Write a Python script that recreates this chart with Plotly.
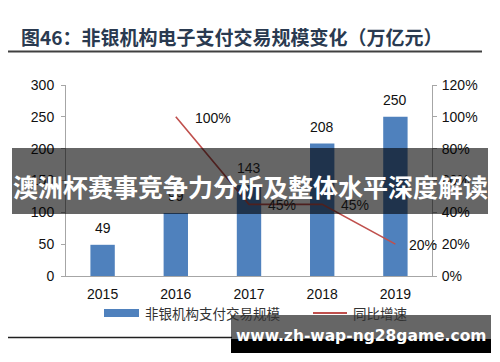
import plotly.graph_objects as go

years = ["2015", "2016", "2017", "2018", "2019"]
scale = [49, 99, 143, 208, 250]
growth = [None, 100, 45, 45, 20]
growth_labels = ["", "100%", "45%", "45%", "20%"]
left_ticks = [0, 50, 100, 150, 200, 250, 300]
right_ticks = [0, 20, 40, 60, 80, 100, 120]

# the page body adds an 8px margin; compensate so the picture lines up
OFF = 8
W, H = 500 - OFF, 362 - OFF
L, R, T, B = 66 - OFF, 432 - OFF, 85 - OFF, 276 - OFF  # plot area in figure pixels


def px(x):
    return (x - OFF - L) / (R - L)


def py(y):
    return (B - (y - OFF)) / (B - T)


FONT = "Liberation Sans, Arial, sans-serif"
CJK = "Noto Sans CJK SC, sans-serif"

fig = go.Figure()
fig.add_trace(go.Bar(
    x=years, y=scale, marker=dict(color="#4f81bd", line=dict(width=0)),
    name="非银机构支付交易规模", showlegend=False,
))
fig.add_trace(go.Scatter(
    x=years, y=growth, yaxis="y2", mode="lines",
    line=dict(color="#c0504d", width=1.6),
    name="同比增速", showlegend=False,
))

fig.update_layout(
    width=W, height=H,
    margin=dict(l=L, r=W - R, t=T, b=H - B, autoexpand=False),
    paper_bgcolor="white", plot_bgcolor="white",
    bargap=0.667,
    xaxis=dict(
        type="category", range=[-0.5, len(years) - 0.5], showgrid=False, showline=True,
        linecolor="#a6a6a6", linewidth=1, ticks="",
        tickfont=dict(family=FONT, size=14, color="#111"), automargin=False,
        ticklabelstandoff=5,
    ),
    yaxis=dict(
        range=[0, 300], tickvals=left_ticks, showgrid=False, showline=True,
        linecolor="#a6a6a6", linewidth=1, ticks="outside", ticklen=4,
        tickcolor="#a6a6a6", tickfont=dict(family=FONT, size=14, color="#111"),
        zeroline=False, automargin=False, ticklabelstandoff=4,
    ),
    yaxis2=dict(
        range=[0, 120], tickvals=right_ticks, ticktext=[f"{v}%" for v in right_ticks],
        overlaying="y", side="right", showgrid=False, showline=True,
        linecolor="#a6a6a6", linewidth=1, ticks="outside", ticklen=4,
        tickcolor="#a6a6a6", tickfont=dict(family=FONT, size=14, color="#111"),
        zeroline=False, automargin=False, ticklabelstandoff=2,
    ),
)

shapes = []
annotations = []

# data labels (anchored to the data through the axes; category index positions)
for i, v in enumerate(scale):
    annotations.append(dict(x=i, y=v, xref="x", yref="y", text=str(v), showarrow=False,
                            xanchor="center", yanchor="bottom", yshift=7,
                            font=dict(family=FONT, size=14, color="#111")))
for i, (g, lab, xs) in enumerate(zip(growth, growth_labels, [0, 17, 17, 17, 12])):
    if g is None:
        continue
    annotations.append(dict(x=i, y=g, xref="x", yref="y2", text=lab, showarrow=False,
                            xanchor="left", yanchor="middle", xshift=xs, yshift=-1,
                            font=dict(family=FONT, size=14, color="#111")))

# title and rules
annotations.append(dict(
    xref="paper", yref="paper", x=px(19), y=py(37), xanchor="left", yanchor="middle",
    text="<b>图46：非银机构电子支付交易规模变化（万亿元）</b>", showarrow=False,
    font=dict(family=CJK, size=19, color="#2a3a50"),
))
shapes.append(dict(type="line", xref="paper", yref="paper", x0=px(8), x1=px(482),
                   y0=py(51.5), y1=py(51.5), line=dict(color="#404040", width=2)))
shapes.append(dict(type="line", xref="paper", yref="paper", x0=px(8), x1=px(232),
                   y0=py(337.5), y1=py(337.5), line=dict(color="#202020", width=1.5)))

# legend
shapes.append(dict(type="rect", xref="paper", yref="paper", x0=px(104), x1=px(139),
                   y0=py(309), y1=py(317), fillcolor="#4f81bd", line=dict(width=0)))
annotations.append(dict(xref="paper", yref="paper", x=px(143), y=py(313), xanchor="left",
                        yanchor="middle", text="非银机构支付交易规模", showarrow=False,
                        font=dict(family=CJK, size=13.5, color="#333")))
shapes.append(dict(type="line", xref="paper", yref="paper", x0=px(313), x1=px(347),
                   y0=py(313), y1=py(313), line=dict(color="#c0504d", width=2)))
annotations.append(dict(xref="paper", yref="paper", x=px(351), y=py(313), xanchor="left",
                        yanchor="middle", text="同比增速", showarrow=False,
                        font=dict(family=CJK, size=13.5, color="#333")))

# banner overlay
shapes.append(dict(type="rect", xref="paper", yref="paper", x0=px(12), x1=px(488),
                   y0=py(214), y1=py(148), fillcolor="rgba(0,0,0,0.6)",
                   line=dict(width=0), layer="above"))
annotations.append(dict(xref="paper", yref="paper", x=px(250), y=py(186), xanchor="center",
                        yanchor="middle", text="<b>澳洲杯赛事竞争力分析及整体水平深度解读</b>",
                        showarrow=False, font=dict(family=CJK, size=25, color="white")))

# watermark box
shapes.append(dict(type="rect", xref="paper", yref="paper", x0=px(231), x1=px(491),
                   y0=py(339), y1=py(315), fillcolor="rgba(0,0,0,0.6)",
                   line=dict(width=0), layer="above"))
shapes.append(dict(type="rect", xref="paper", yref="paper", x0=px(231), x1=px(491),
                   y0=py(353), y1=py(339), fillcolor="black",
                   line=dict(width=0), layer="above"))
annotations.append(dict(xref="paper", yref="paper", x=px(361), y=py(336), xanchor="center",
                        yanchor="middle", text="<b>www.zh-wap-ng28game.com</b>",
                        showarrow=False, font=dict(family="DejaVu Sans, sans-serif", size=15.5, color="white")))

fig.update_layout(shapes=shapes, annotations=annotations)
fig.write_html("out.html")
